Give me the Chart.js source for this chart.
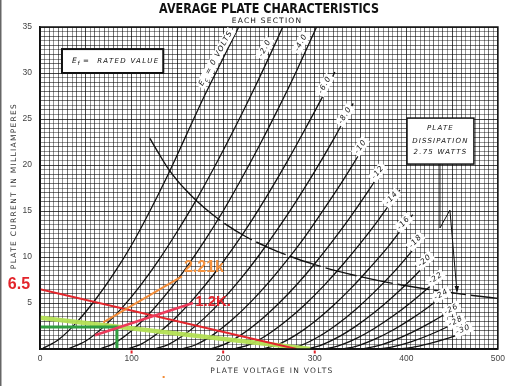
<!DOCTYPE html>
<html><head><meta charset="utf-8">
<script src="https://cdn.jsdelivr.net/npm/chart.js@4.4.1/dist/chart.umd.min.js"></script>
<style>html,body{margin:0;padding:0;background:#fff;}#wrap{width:510px;height:386px;}</style>
</head><body><div id="wrap"><canvas id="c" width="510" height="386"></canvas></div>
<script>
// ---------- tick labels ----------
const xTickValues = [0, 100, 200, 300, 400, 500];
const xTickLabels = ['0', '100', '200', '300', '400', '500'];
const yTickValues = [5, 10, 15, 20, 25, 30, 35];
const yTickLabels = ['5', '10', '15', '20', '25', '30', '35'];

// ---------- plate curves: [plate volts, plate mA] ----------
const ec0  = [[2,0],[20,1.0],[40,2.9],[60,5.3],[80,8.1],[100,11.3],[120,15.0],[140,19.0],[160,23.3],[180,27.6],[200,31.6],[217,35]];
const ec2  = [[30,0],[50,0.87],[70,2.46],[90,4.52],[110,6.95],[130,9.72],[150,12.8],[170,16.1],[190,19.7],[210,23.5],[230,27.5],[250,31.7],[265,35]];
const ec4  = [[65,0],[80,0.56],[100,1.99],[120,3.91],[140,6.23],[160,8.88],[180,11.8],[200,15.0],[220,18.5],[240,22.2],[260,26.1],[280,30.2],[302,35]];
const ec6  = [[95,0],[110,0.51],[130,1.82],[150,3.59],[170,5.72],[190,8.15],[210,10.85],[230,13.8],[250,17.0],[270,20.4],[290,24.0],[310,27.7],[322,30.1]];
const ec8  = [[125,0],[140,0.48],[160,1.73],[180,3.41],[200,5.42],[220,7.73],[240,10.3],[260,13.1],[280,16.1],[300,19.3],[320,22.7],[342,26.7]];
const ec10 = [[155,0],[170,0.46],[190,1.62],[210,3.2],[230,5.1],[250,7.27],[270,9.68],[290,12.3],[310,15.2],[330,18.2],[345,20.6],[358,22.7]];
const ec12 = [[185,0],[200,0.44],[220,1.56],[240,3.07],[260,4.89],[280,6.96],[300,9.27],[320,11.8],[340,14.5],[360,17.4],[377,20.0]];
const ec14 = [[212,0],[230,0.54],[250,1.66],[270,3.14],[290,4.89],[310,6.89],[330,9.1],[350,11.5],[370,14.1],[393,17.3]];
const ec16 = [[243,0],[260,0.49],[280,1.56],[300,2.99],[320,4.7],[340,6.64],[360,8.8],[380,11.1],[400,13.7],[407,14.6]];
const ec18 = [[270,0],[285,0.39],[305,1.38],[325,2.72],[345,4.33],[365,6.18],[385,8.22],[405,10.5],[418,12.0]];
const ec20 = [[290,0],[305,0.35],[325,1.26],[345,2.49],[365,3.96],[385,5.65],[405,7.52],[428,9.9]];
const ec22 = [[310,0],[325,0.32],[345,1.13],[365,2.23],[385,3.55],[405,5.06],[425,6.73],[439,8.0]];
const ec24 = [[330,0],[345,0.29],[365,1.04],[385,2.04],[405,3.25],[425,4.63],[448,6.4]];
const ec26 = [[350,0],[365,0.25],[385,0.89],[405,1.75],[425,2.78],[445,3.96],[458,4.8]];
const ec28 = [[370,0],[385,0.22],[405,0.77],[425,1.52],[445,2.42],[464,3.4]];
const ec30 = [[390,0],[405,0.16],[425,0.59],[445,1.15],[472,2.1]];
const curveLabels = ['0', '-2.0', '-4.0', '-6.0', '-8.0', '-10', '-12', '-14', '-16', '-18', '-20', '-22', '-24', '-26', '-28', '-30'];

// ---------- plate dissipation 2.75 W ----------
const dissVolts = [120,130,140,150,160,170,180,200,225,250,275,300,325,350,375,400,425,450,475,500];
const dissMa    = [22.9,21.2,19.6,18.3,17.2,16.2,15.3,13.75,12.2,11.0,10.0,9.17,8.46,7.86,7.33,6.88,6.47,6.11,5.79,5.5];

// ---------- hand-drawn load lines ----------
const line65Volts = [0, 280];   const line65Ma = [6.5, 0];
const limeVolts   = [0, 295];   const limeMa   = [3.4, 0];
const greenVolts  = [0, 84, 84]; const greenMa = [2.4, 2.4, 0];
const k12Volts    = [60, 167];  const k12Ma    = [1.5, 5.0];
const k221Volts   = [69, 155];  const k221Ma   = [2.9, 7.9];

// ---------- annotation layout (label anchor in data units) ----------
const labelAnchorV = [192,245.6,285,311,333,350,369,384,397,410,420,432,438,449,454,462];
const labelAnchorI = [31.6,32.7,33.3,28.7,25.4,22.0,19.2,16.4,13.7,11.7,9.6,7.7,5.9,4.3,3.0,2.1];
const labelAngle   = [-61,-62,-62,-60,-58,-55,-50,-48,-48,-47,-41,-34,-29,-28,-27,-22];

const curves = [ec0,ec2,ec4,ec6,ec8,ec10,ec12,ec14,ec16,ec18,ec20,ec22,ec24,ec26,ec28,ec30];
const pts = (vs, is) => vs.map((v, k) => ({x: v, y: is[k]}));

const datasets = curves.map((c, k) => ({
  label: 'Ec ' + curveLabels[k],
  data: c.map(p => ({x: p[0], y: p[1]})),
  showLine: true, borderColor: '#111', borderWidth: 1.3, pointRadius: 0,
  cubicInterpolationMode: 'monotone', fill: false, order: 20
}));
datasets.push({label:'diss solid', data: pts(dissVolts.slice(0,6), dissMa.slice(0,6)), showLine:true, borderColor:'#111', borderWidth:1.4, pointRadius:0, cubicInterpolationMode:'monotone', order:19});
datasets.push({label:'diss dashed', data: pts(dissVolts.slice(5), dissMa.slice(5)), showLine:true, borderColor:'#111', borderWidth:1.4, borderDash:[32,5], pointRadius:0, cubicInterpolationMode:'monotone', order:18});
datasets.push({label:'lime', data: pts(limeVolts, limeMa), showLine:true, borderColor:'rgba(180,224,84,0.95)', borderWidth:4.5, pointRadius:0, order:6});
datasets.push({label:'6.5', data: pts(line65Volts, line65Ma), showLine:true, borderColor:'#e3262c', borderWidth:2, pointRadius:0, order:5});
datasets.push({label:'green', data: pts(greenVolts, greenMa), showLine:true, borderColor:'#2f9d40', borderWidth:3, pointRadius:0, order:4});
datasets.push({label:'1.2K', data: pts(k12Volts, k12Ma), showLine:true, borderColor:'#ec3a5a', borderWidth:2.5, pointRadius:0, order:3});
datasets.push({label:'2.21k', data: pts(k221Volts, k221Ma), showLine:true, borderColor:'#f28c38', borderWidth:2, pointRadius:0, order:2});

function gridCol(v, major, mid) {
  if (Math.abs(v % major) < 1e-6) return 'rgba(0,0,0,0.72)';
  if (Math.abs(v % mid) < 1e-6) return 'rgba(0,0,0,0.55)';
  return 'rgba(0,0,0,0.42)';
}

function spaced(ctx, s, x, y, sp) {
  if ('letterSpacing' in ctx) { ctx.letterSpacing = sp + 'px'; ctx.fillText(s, x, y); ctx.letterSpacing = '0px'; }
  else ctx.fillText(s, x, y);
}

const annot = {
  id: 'annot',
  afterDatasetsDraw(chart) {
    const {ctx, scales: {x, y}, chartArea: a} = chart;
    const X = v => x.getPixelForValue(v), Y = i => y.getPixelForValue(i);
    ctx.save();
    ctx.strokeStyle = '#111'; ctx.lineWidth = 1.5;
    ctx.strokeRect(a.left, a.top, a.right - a.left, a.bottom - a.top);

    ctx.textBaseline = 'middle'; ctx.textAlign = 'center';
    for (let k = 0; k < curves.length; k++) {
      ctx.save();
      ctx.translate(X(labelAnchorV[k]), Y(labelAnchorI[k]));
      ctx.rotate(labelAngle[k] * Math.PI / 180);
      ctx.font = 'italic 7.5px "DejaVu Sans"';
      if (k === 0) {
        const rest = ' = 0 VOLTS';
        if ('letterSpacing' in ctx) ctx.letterSpacing = '1px';
        const wE = ctx.measureText('E').width, wR = ctx.measureText(rest).width;
        ctx.font = 'italic 5.5px "DejaVu Sans"';
        const wc = ctx.measureText('c').width;
        const tot = wE + wc + wR;
        ctx.fillStyle = '#fff'; ctx.fillRect(-tot/2 - 2, -5, tot + 4, 10);
        ctx.fillStyle = '#111'; ctx.textAlign = 'left';
        ctx.font = 'italic 7.5px "DejaVu Sans"';
        ctx.fillText('E', -tot/2, 0);
        ctx.font = 'italic 5.5px "DejaVu Sans"';
        ctx.fillText('c', -tot/2 + wE, 2.5);
        ctx.font = 'italic 7.5px "DejaVu Sans"';
        ctx.fillText(rest, -tot/2 + wE + wc, 0);
        if ('letterSpacing' in ctx) ctx.letterSpacing = '0px';
        ctx.textAlign = 'center';
      } else {
        if ('letterSpacing' in ctx) ctx.letterSpacing = '1px';
        const w = ctx.measureText(curveLabels[k]).width;
        ctx.fillStyle = '#fff'; ctx.fillRect(-w/2 - 2, -5, w + 4, 10);
        ctx.fillStyle = '#111'; ctx.fillText(curveLabels[k], 0, 0);
        if ('letterSpacing' in ctx) ctx.letterSpacing = '0px';
      }
      ctx.restore();
    }

    const bx1 = X(24), by1 = Y(32.6), bx2 = X(134.6), by2 = Y(30.0);
    ctx.fillStyle = '#fff'; ctx.fillRect(bx1, by1, bx2 - bx1, by2 - by1);
    ctx.strokeStyle = '#111'; ctx.lineWidth = 2; ctx.strokeRect(bx1, by1, bx2 - bx1, by2 - by1);
    ctx.fillStyle = '#111'; ctx.textAlign = 'left'; ctx.textBaseline = 'middle';
    const cy = (by1 + by2) / 2;
    ctx.font = 'italic 7.5px "DejaVu Sans"';
    ctx.fillText('E', bx1 + 10, cy);
    ctx.font = 'italic 5.5px "DejaVu Sans"';
    ctx.fillText('f', bx1 + 15.5, cy + 2.5);
    ctx.font = 'italic 7px "DejaVu Sans"';
    spaced(ctx, '=  RATED VALUE', bx1 + 21, cy, 1.3);

    const dx1 = X(400.7), dy1 = Y(25.1), dx2 = X(473.8), dy2 = Y(20.1);
    ctx.fillStyle = '#fff'; ctx.fillRect(dx1, dy1, dx2 - dx1, dy2 - dy1);
    ctx.strokeStyle = '#111'; ctx.lineWidth = 1.5; ctx.strokeRect(dx1, dy1, dx2 - dx1, dy2 - dy1);
    ctx.fillStyle = '#111'; ctx.textAlign = 'center';
    ctx.font = 'italic 7px "DejaVu Sans"';
    const dcx = (dx1 + dx2) / 2;
    spaced(ctx, 'PLATE', dcx, dy1 + 10.5, 1.2);
    spaced(ctx, 'DISSIPATION', dcx, dy1 + 23, 1.2);
    spaced(ctx, '2.75 WATTS', dcx, dy1 + 34.5, 1.2);

    ctx.strokeStyle = '#111'; ctx.lineWidth = 1;
    ctx.beginPath();
    ctx.moveTo(X(436.7), Y(20.1)); ctx.lineTo(X(436.7), Y(13.15));
    ctx.lineTo(X(447.6), Y(15.1)); ctx.lineTo(X(455.2), Y(6.3));
    ctx.stroke();
    const tx = X(455.4), ty = Y(6.1);
    ctx.fillStyle = '#111'; ctx.beginPath();
    ctx.moveTo(tx, ty); ctx.lineTo(tx - 2.5, ty - 7); ctx.lineTo(tx + 2, ty - 7); ctx.closePath(); ctx.fill();

    ctx.textAlign = 'center'; ctx.textBaseline = 'middle';
    ctx.font = 'bold 16px "Liberation Sans"';
    ctx.fillStyle = '#e3242b'; ctx.fillText('6.5', X(-23), Y(7.05));
    ctx.fillStyle = '#f5923e'; ctx.fillText('2.21k', X(179), Y(8.8));
    ctx.font = 'bold 15px "Liberation Sans"';
    ctx.fillStyle = '#e3242b'; ctx.fillText('1.2K.', X(189), Y(5.1));

    ctx.fillStyle = '#e3242b';
    [100, 200, 300].forEach(v => ctx.fillRect(X(v) - 1, a.bottom + 1.5, 2, 3));
    ctx.fillStyle = '#f28c38'; ctx.fillRect(X(135) - 1, a.bottom + 27, 2, 2);
    ctx.restore();
  },
  afterDraw(chart) {
    const {ctx} = chart;
    ctx.save();
    ctx.fillStyle = '#666'; ctx.fillRect(0, 0, 1.5, 386);
    ctx.fillStyle = '#111'; ctx.textAlign = 'center'; ctx.textBaseline = 'middle';
    ctx.font = 'bold 14px "DejaVu Sans"';
    ctx.fillText('AVERAGE PLATE CHARACTERISTICS', 269, 9, 220);
    ctx.font = '7.5px "DejaVu Sans"';
    spaced(ctx, 'EACH SECTION', 267, 21, 1.2);
    ctx.fillStyle = '#333';
    ctx.font = '7.5px "DejaVu Sans"';
    spaced(ctx, 'PLATE VOLTAGE IN VOLTS', 272, 371, 1.3);
    ctx.translate(14, 186); ctx.rotate(-Math.PI / 2);
    spaced(ctx, 'PLATE CURRENT IN MILLIAMPERES', 0, 0, 1.3);
    ctx.restore();
  }
};

new Chart(document.getElementById('c'), {
  type: 'scatter',
  data: { datasets },
  options: {
    responsive: false, animation: false, devicePixelRatio: 1,
    layout: { padding: { top: 27, right: 12, bottom: 0, left: 0 } },
    plugins: { legend: { display: false }, tooltip: { enabled: false }, title: { display: false } },
    scales: {
      x: {
        type: 'linear', min: 0, max: 500,
        afterFit: s => { s.height = 37; },
        ticks: { stepSize: 5, autoSkip: false, maxRotation: 0, minRotation: 0, padding: 5, color: '#444',
          font: { family: 'Liberation Sans', size: 8.5 },
          callback: v => { const k = xTickValues.indexOf(v); return k >= 0 ? xTickLabels[k] : ''; } },
        grid: { drawTicks: false, lineWidth: 1, color: c => gridCol(c.tick.value, 50, 10) },
        border: { display: true, color: '#111', width: 1.5 }
      },
      y: {
        type: 'linear', min: 0, max: 35,
        afterFit: s => { s.width = 40; },
        ticks: { stepSize: 0.5, autoSkip: false, padding: 8, color: '#444',
          font: { family: 'Liberation Sans', size: 8.5 },
          callback: v => { const k = yTickValues.indexOf(v); return k >= 0 ? yTickLabels[k] : ''; } },
        grid: { drawTicks: false, lineWidth: 1, color: c => gridCol(c.tick.value, 5, 1) },
        border: { display: true, color: '#111', width: 1.5 }
      }
    }
  },
  plugins: [annot]
});
</script></body></html>
